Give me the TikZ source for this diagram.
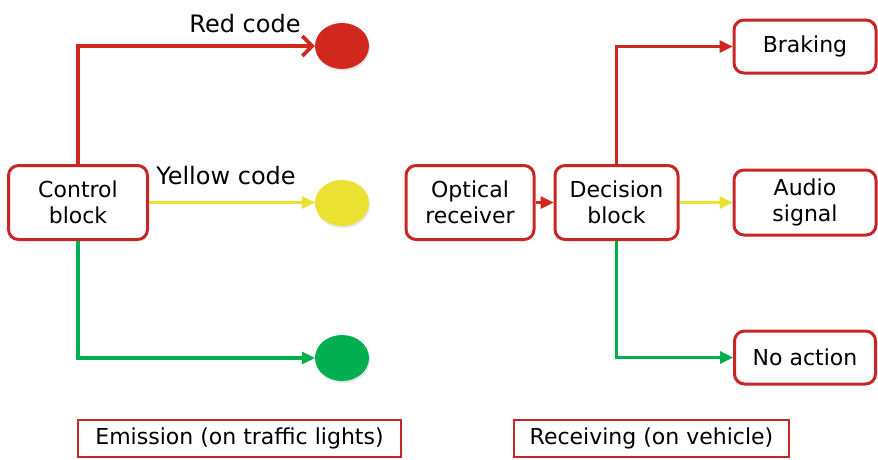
\documentclass[tikz,border=0pt]{standalone}
\usepackage{fontspec}
\setmainfont{DejaVu Sans}
\usetikzlibrary{arrows.meta,shapes.geometric,shadows}
\definecolor{cred}{RGB}{208,40,30}
\definecolor{cbox}{RGB}{200,38,38}
\definecolor{cyel}{RGB}{235,225,50}
\definecolor{cgrn}{RGB}{0,176,80}
\tikzset{
  blk/.style={draw=cbox, line width=3pt, rounded corners=10pt, fill=white,
    inner sep=0pt, align=center, font=\fontsize{22}{26}\selectfont},
  lamp/.style={ellipse, draw=none, minimum width=54pt, minimum height=46pt, inner sep=0pt,
    drop shadow={opacity=0.2, shadow xshift=1pt, shadow yshift=-2pt}},
  capbox/.style={draw=cbox, line width=2.5pt, fill=white, inner sep=0pt,
    font=\fontsize{22}{26}\selectfont},
  lbl/.style={font=\fontsize{24}{28}\selectfont, anchor=base, inner sep=0pt},
  conn/.style={line width=3.6pt},
  tri/.style={-{Triangle[length=13pt,width=13pt,line width=0pt]}},
}
\begin{document}
\begin{tikzpicture}[x=1pt,y=-1pt]
\useasboundingbox (0,0) rectangle (878,459);
% emission side
\node[blk, minimum width=139pt, minimum height=74pt] (ctrl) at (78,202.5) {Control\\block};
\node[lamp, fill=cred] (lr) at (342,46) {};
\node[lamp, fill=cyel] (ly) at (342,203) {};
\node[lamp, fill=cgrn] (lg) at (342,358) {};
\node[lbl] (tr) at (245,32) {Red code};
\node[lbl] (ty) at (226,184) {Yellow code};
\draw[conn, draw=cred, -{Straight Barb[length=10pt,width=20pt,line width=3.6pt]}] (ctrl.north) |- (lr.west);
\draw[conn, draw=cyel, tri] (ctrl.east) -- (ctrl.east -| ly.west);
\draw[conn, draw=cgrn, tri] (ctrl.south) |- (lg.west);
% receiving side
\node[blk, minimum width=128pt, minimum height=74pt] (opt) at (470,202.5) {Optical\\receiver};
\node[blk, minimum width=123pt, minimum height=74pt] (dec) at (616.5,202.5) {Decision\\block};
\node[blk, minimum width=142pt, minimum height=53pt] (brk) at (805,46.5) {Braking};
\node[blk, minimum width=142pt, minimum height=65pt] (aud) at (805,202.5) {Audio\\signal};
\node[blk, minimum width=141pt, minimum height=53pt] (noa) at (805,357.5) {No action};
\draw[conn, draw=cred, tri] (opt.east) -- (dec.west);
\draw[conn, draw=cred, tri] (dec.north) |- (brk.west);
\draw[conn, draw=cyel, tri] (dec.east) -- (aud.west);
\draw[conn, draw=cgrn, tri] (dec.south) |- (noa.west);
% captions
\node[capbox, minimum width=323pt, minimum height=37pt] (em) at (239.5,438.5) {Emission (on traffic lights)};
\node[capbox, minimum width=275pt, minimum height=37pt] (rv) at (651.5,438.5) {Receiving (on vehicle)};
\end{tikzpicture}
\end{document}
